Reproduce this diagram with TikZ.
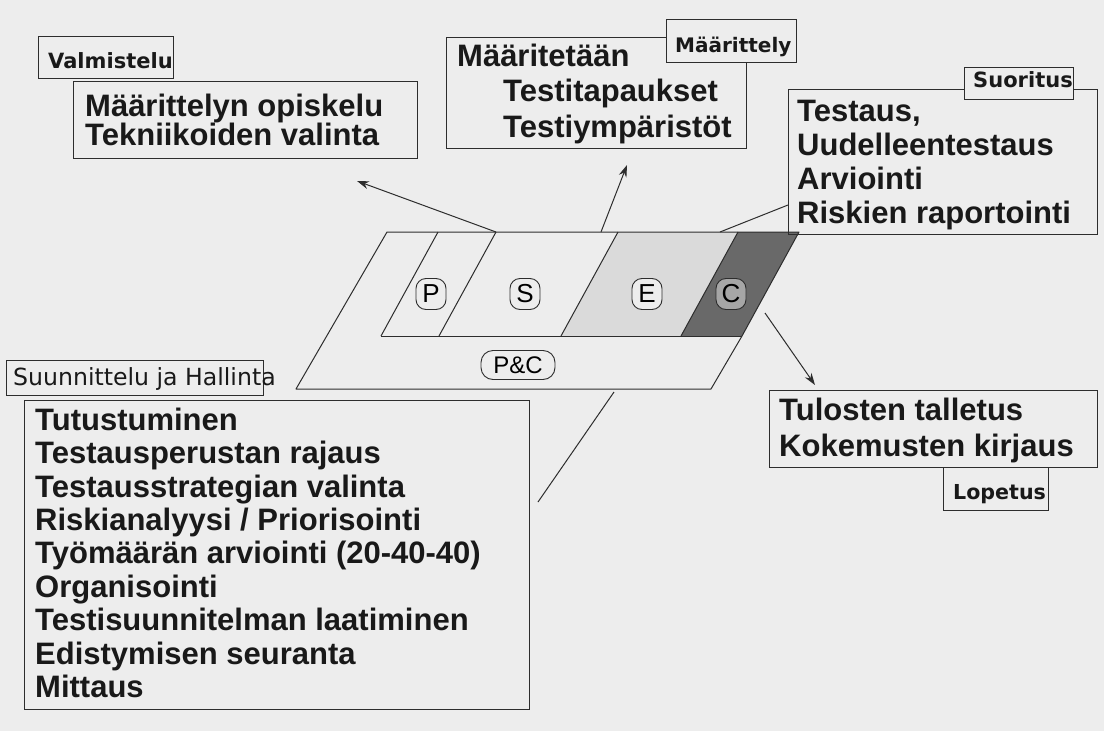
\documentclass[tikz,border=0pt]{standalone}
\usepackage{fontspec}
\setmainfont{Liberation Sans}
\newfontfamily\dvs{DejaVu Sans}
\usetikzlibrary{arrows.meta}
\definecolor{bg}{RGB}{237,237,237}
\definecolor{efill}{RGB}{218,218,218}
\definecolor{cfill}{RGB}{105,105,105}
\definecolor{ink}{RGB}{45,45,45}
\tikzset{
  box/.style={draw=ink, line width=1.1pt, inner sep=0pt, anchor=north west},
  lblbox/.style={draw=ink, line width=1.1pt, fill=bg, inner sep=0pt, anchor=north west},
  big/.style={anchor=north west, inner sep=0pt, align=left, text=black!90,
    font=\bfseries\fontsize{31}{#1}\selectfont},
  lbltext/.style={anchor=base west, inner sep=0pt, text=black!90,
    font=\dvs\bfseries\fontsize{21}{24}\selectfont},
  tag/.style={draw=ink, line width=0.9pt, rounded corners=10pt, minimum width=30pt,
    minimum height=31pt, inner sep=0pt, font=\fontsize{26}{28}\selectfont, fill=bg},
  conn/.style={draw=ink, line width=1pt},
  arr/.style={conn, -{Stealth[length=12pt,width=8pt]}},
  shapeline/.style={draw=ink, line width=1pt, line join=round},
}
\begin{document}
\begin{tikzpicture}[x=1pt,y=-1pt]
\fill[bg] (0,0) rectangle (1104,731);
\useasboundingbox (0,0) rectangle (1104,731);

% --- central band ---
\fill[efill] (618,232) -- (738,232) -- (681,336) -- (561,336) -- cycle;
\fill[cfill] (738,232) -- (799,232) -- (742,336) -- (681,336) -- cycle;
\draw[shapeline] (387,232) -- (799,232) -- (742,336) -- (711,389) -- (296,389) -- cycle;
\draw[shapeline] (381,336) -- (742,336);
\draw[shapeline] (438,232) -- (381,336);
\draw[shapeline] (496,232) -- (439,336);
\draw[shapeline] (618,232) -- (561,336);
\draw[shapeline] (738,232) -- (681,336);

\node (tP) [tag] at (431,294) {P};
\node (tS) [tag] at (525,294) {S};
\node (tE) [tag] at (647,294) {E};
\node (tC) [tag, fill=black!35] at (731,294) {C};
\node (tPC) [tag, minimum width=74pt, minimum height=29pt, rounded corners=12pt,
  font=\fontsize{24}{26}\selectfont] at (518,365) {P\&C};

% --- big boxes ---
\node (valmB) [box, minimum width=344pt, minimum height=77pt] at (73,81) {};
\node (maarB) [box, minimum width=300pt, minimum height=111pt] at (446,37) {};
\node (suorB) [box, minimum width=309pt, minimum height=145pt] at (788,89) {};
\node (tulB)  [box, minimum width=328pt, minimum height=77pt] at (769,390) {};
\node (suunB) [box, minimum width=505pt, minimum height=309pt] at (24,400) {};

\node (valmT) [big=29.5] at (85,86) {\rule{0pt}{30pt}Määrittelyn opiskelu\\Tekniikoiden valinta};
\node (maarT) [big=35.5] at (457,36) {\rule{0pt}{30pt}Määritetään\\\hspace*{46pt}Testitapaukset\\\hspace*{46pt}Testiympäristöt};
\node (suorT) [big=34] at (797,91) {\rule{0pt}{30pt}Testaus,\\Uudelleentestaus\\Arviointi\\Riskien raportointi};
\node (tulT)  [big=36] at (779,390) {\rule{0pt}{30pt}Tulosten talletus\\Kokemusten kirjaus};
\node (suunT) [big=33.4] at (35,400) {\rule{0pt}{30pt}Tutustuminen\\Testausperustan rajaus\\Testausstrategian valinta\\Riskianalyysi / Priorisointi\\Työmäärän arviointi (20-40-40)\\Organisointi\\Testisuunnitelman laatiminen\\Edistymisen seuranta\\Mittaus};

% --- label boxes ---
\node (valmL) [lblbox, minimum width=135pt, minimum height=42pt] at (38,36) {};
\node (maarL) [lblbox, minimum width=130pt, minimum height=43pt] at (666,19) {};
\node (suorL) [lblbox, minimum width=109pt, minimum height=32pt] at (964,67) {};
\node (lopL)  [lblbox, minimum width=105pt, minimum height=43pt] at (943,467) {};
\node (suunL) [lblbox, minimum width=257pt, minimum height=35pt] at (6,360) {};

\node (valmLt) [lbltext] at (48,68) {Valmistelu};
\node (maarLt) [lbltext, font=\dvs\bfseries\fontsize{20}{24}\selectfont] at (675,52) {Määrittely};
\node (suorLt) [lbltext] at (973,87) {Suoritus};
\node (lopLt)  [lbltext, font=\dvs\bfseries\fontsize{20.6}{24}\selectfont] at (953,499) {Lopetus};
\node (suunLt) [lbltext, font=\dvs\fontsize{23.6}{26}\selectfont] at (13,385) {Suunnittelu ja Hallinta};

% --- connectors ---
\coordinate (cV) at (496,232); \coordinate (eV) at (357,181);
\coordinate (cM) at (601,232); \coordinate (eM) at (627,165);
\coordinate (cS) at (720,232); \coordinate (eS) at (788,205);
\coordinate (cT) at (765,313); \coordinate (eT) at (815,385);
\coordinate (cP) at (614,392); \coordinate (eP) at (538,502);
\draw[arr] (cV) -- (eV);
\draw[arr] (cM) -- (eM);
\draw[conn] (cS) -- (eS);
\draw[arr] (cT) -- (eT);
\draw[conn] (eP) -- (cP);
\end{tikzpicture}
\end{document}
